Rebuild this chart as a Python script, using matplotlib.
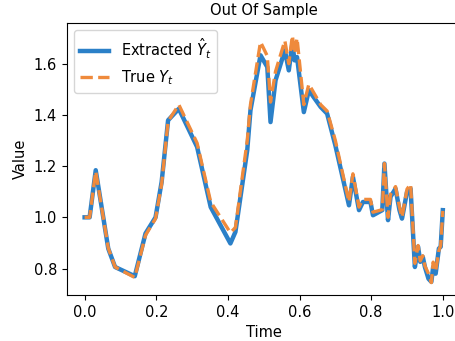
import matplotlib
matplotlib.use("Agg")
import matplotlib.pyplot as plt

# time grid and the two series
t = [0.0, 0.014, 0.031, 0.066, 0.085, 0.140, 0.170, 0.198, 0.215, 0.233,
     0.263, 0.314, 0.352, 0.407, 0.421, 0.454, 0.463, 0.491, 0.510, 0.519,
     0.533, 0.559, 0.570, 0.580, 0.586, 0.593, 0.612, 0.626, 0.659, 0.677,
     0.700, 0.738, 0.749, 0.766, 0.777, 0.798, 0.805, 0.831, 0.837, 0.847,
     0.854, 0.868, 0.879, 0.886, 0.900, 0.910, 0.922, 0.931, 0.937, 0.944,
     0.950, 0.960, 0.968, 0.973, 0.980, 0.989, 0.994, 1.0]

extracted = [1.0, 1.0, 1.184, 0.878, 0.806, 0.770, 0.937, 1.0, 1.138, 1.379,
             1.424, 1.275, 1.040, 0.898, 0.943, 1.262, 1.418, 1.633, 1.587, 1.372,
             1.535, 1.652, 1.574, 1.678, 1.613, 1.626, 1.411, 1.496, 1.431, 1.405,
             1.281, 1.047, 1.158, 1.028, 1.060, 1.060, 1.008, 1.028, 1.210, 0.989,
             1.080, 1.112, 1.028, 0.995, 1.099, 1.112, 0.806, 0.885, 0.826, 0.846,
             0.806, 0.760, 0.748, 0.806, 0.780, 0.878, 0.885, 1.028]

true_y = [1.0, 1.0, 1.180, 0.880, 0.806, 0.765, 0.930, 0.995, 1.130, 1.375,
          1.440, 1.290, 1.060, 0.940, 0.960, 1.300, 1.440, 1.685, 1.630, 1.450,
          1.570, 1.690, 1.600, 1.710, 1.640, 1.700, 1.440, 1.520, 1.440, 1.415,
          1.300, 1.060, 1.170, 1.040, 1.070, 1.070, 1.020, 1.030, 1.210, 1.000,
          1.090, 1.120, 1.040, 1.000, 1.110, 1.130, 0.820, 0.890, 0.830, 0.850,
          0.810, 0.780, 0.745, 0.825, 0.790, 0.870, 0.890, 1.025]

plt.rcParams['font.size'] = 10.5

fig = plt.figure(figsize=(4.55, 3.41), dpi=100)
ax = fig.add_axes([0.1466, 0.135, 0.866, 0.797])

ax.plot(t, extracted, color='#2b80c8', lw=3.2, label=r'Extracted $\hat{Y}_t$')
ax.plot(t, true_y, color='#ef8a3c', lw=2.4, ls='--', label=r'True $Y_t$')

ax.set_title('Out Of Sample', fontsize=10.5)
ax.set_xlabel('Time')
ax.set_ylabel('Value')
ax.set_xticks([0.0, 0.2, 0.4, 0.6, 0.8, 1.0])
ax.set_yticks([0.8, 1.0, 1.2, 1.4, 1.6])
ax.legend(loc='upper left')

fig.savefig('out.png', dpi=100)
